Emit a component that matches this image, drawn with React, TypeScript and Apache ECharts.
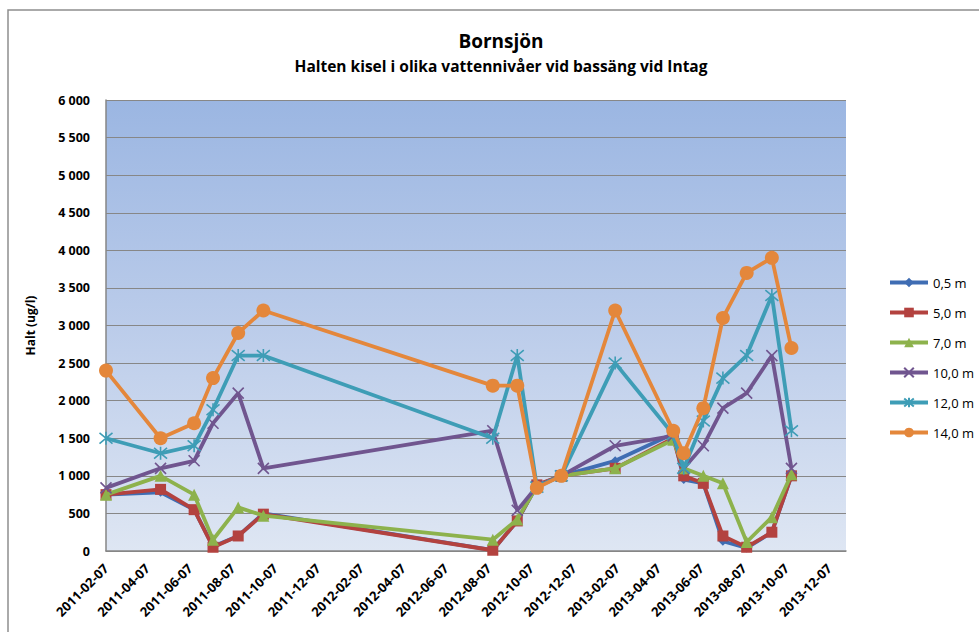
import React, { useEffect, useRef } from "react";
import * as echarts from "echarts";

// Sampling dates (YYYY-MM-DD)
const sampleDates = [
  "2011-02-07", "2011-04-26", "2011-06-13", "2011-07-10", "2011-08-15", "2011-09-20",
  "2012-08-13", "2012-09-17", "2012-10-15", "2012-11-19", "2013-02-04", "2013-04-28",
  "2013-05-13", "2013-06-10", "2013-07-08", "2013-08-11", "2013-09-16", "2013-10-14",
];

// Silica concentration (ug/l) per depth
const depth05 = [750, 780, 550, 60, 200, 500, 10, 400, 870, 1000, 1200, 1560, 950, 900, 130, 40, 250, 1000];
const depth50 = [750, 820, 550, 50, 200, 490, 10, 400, 880, 1000, 1100, 1500, 1000, 900, 200, 50, 250, 1000];
const depth70 = [750, 1000, 750, 150, 580, 470, 150, 420, 860, 1000, 1100, 1480, 1100, 1000, 900, 120, 450, 1020];
const depth100 = [840, 1100, 1200, 1700, 2100, 1100, 1600, 540, 860, 1000, 1400, 1530, 1100, 1400, 1900, 2100, 2600, 1100];
const depth120 = [1500, 1300, 1400, 1880, 2600, 2600, 1500, 2600, 850, 1000, 2500, 1550, 1100, 1730, 2300, 2600, 3400, 1600];
const depth140 = [2400, 1500, 1700, 2300, 2900, 3200, 2200, 2200, 840, 1000, 3200, 1600, 1300, 1900, 3100, 3700, 3900, 2700];

const seriesNames = ["0,5 m", "5,0 m", "7,0 m", "10,0 m", "12,0 m", "14,0 m"];

// X-axis tick labels, every second month
const tickDates = [
  "2011-02-07", "2011-04-07", "2011-06-07", "2011-08-07", "2011-10-07", "2011-12-07",
  "2012-02-07", "2012-04-07", "2012-06-07", "2012-08-07", "2012-10-07", "2012-12-07",
  "2013-02-07", "2013-04-07", "2013-06-07", "2013-08-07", "2013-10-07", "2013-12-07",
];
const xMin = "2011-02-07";
const xMax = "2013-12-31";

const yMin = 0;
const yMax = 6000;
const yInterval = 500;

const toTs = (s: string) => {
  const [y, m, d] = s.split("-").map(Number);
  return Date.UTC(y, m - 1, d);
};
const pad = (n: number) => (n < 10 ? "0" + n : String(n));
const fmtDate = (v: number) => {
  const d = new Date(v);
  return `${d.getUTCFullYear()}-${pad(d.getUTCMonth() + 1)}-${pad(d.getUTCDate())}`;
};
const fmtThousands = (v: number) => String(v).replace(/\B(?=(\d{3})+(?!\d))/g, " ");

const FONT = '"Open Sans", "Noto Sans", sans-serif';

const crossPath = "path://M0,0 L10,10 M10,0 L0,10";
const starPath = "path://M0,0 L10,10 M10,0 L0,10 M5,-1 L5,11";

export default function App() {
  const ref = useRef<HTMLDivElement>(null);

  useEffect(() => {
    if (!ref.current) return;
    const chart = echarts.init(ref.current, undefined, { renderer: "svg" });

    const values = [depth05, depth50, depth70, depth100, depth120, depth140];
    const colors = ["#3F6DB3", "#B3423F", "#8DB24C", "#70558F", "#3E9DB6", "#E4873B"];
    const symbols = ["diamond", "rect", "triangle", crossPath, starPath, "circle"];
    const sizes = [9, 11, 12, 11, 13, 14];
    const stroked = [false, false, false, true, true, false];

    const series = values.map((vals, i) => ({
      name: seriesNames[i],
      type: "line",
      data: vals.map((v, k) => [toTs(sampleDates[k]), v]),
      symbol: symbols[i],
      symbolSize: sizes[i],
      showAllSymbol: true,
      lineStyle: { color: colors[i], width: 3.8 },
      itemStyle: stroked[i]
        ? { color: colors[i], borderColor: colors[i], borderWidth: 1.6 }
        : { color: colors[i], borderWidth: 0 },
      emphasis: { disabled: true },
      z: 2 + i,
    }));

    chart.setOption({
      animation: false,
      backgroundColor: "#ffffff",
      textStyle: { fontFamily: FONT },
      graphic: [
        {
          type: "rect",
          silent: true,
          z: -10,
          shape: { x: 8, y: 10, width: 1200, height: 800 },
          style: { fill: "none", stroke: "#8e8e8e", lineWidth: 1.5 },
        },
        {
          type: "text",
          x: 501,
          y: 41,
          style: {
            text: "Bornsjön",
            fontFamily: FONT,
            fontWeight: "bold",
            fontSize: 19,
            fill: "#000",
            align: "center",
            verticalAlign: "middle",
          },
        },
        {
          type: "text",
          x: 501,
          y: 66,
          style: {
            text: "Halten kisel i olika vattennivåer vid bassäng vid Intag",
            fontFamily: FONT,
            fontWeight: "bold",
            fontSize: 15.5,
            fill: "#000",
            align: "center",
            verticalAlign: "middle",
          },
        },
      ],
      grid: {
        left: 106,
        top: 100,
        right: 133,
        bottom: 81,
        show: true,
        borderWidth: 0,
        backgroundColor: new echarts.graphic.LinearGradient(0, 0, 0, 1, [
          { offset: 0, color: "#9BB6E2" },
          { offset: 0.5, color: "#BBCCEA" },
          { offset: 1, color: "#DEE6F3" },
        ]),
      },
      legend: {
        orient: "vertical",
        left: 888,
        top: 276,
        padding: 0,
        itemWidth: 38,
        itemHeight: 12,
        itemGap: 17,
        lineStyle: { width: 4 },
        textStyle: { fontFamily: FONT, fontSize: 13, color: "#000" },
        data: seriesNames,
      },
      xAxis: {
        type: "value",
        min: toTs(xMin),
        max: toTs(xMax),
        splitLine: { show: false },
        axisTick: { show: false },
        axisLine: { show: true, onZero: false, lineStyle: { color: "#868686", width: 1.5 } },
        axisLabel: {
          customValues: tickDates.map(toTs),
          rotate: 45,
          margin: 15,
          formatter: (v: number) => fmtDate(v),
          fontFamily: FONT,
          fontWeight: "bold",
          fontSize: 13,
          color: "#000",
        },
      },
      yAxis: {
        type: "value",
        min: yMin,
        max: yMax,
        interval: yInterval,
        name: "Halt (ug/l)",
        nameLocation: "middle",
        nameGap: 70,
        nameRotate: 90,
        nameTextStyle: { fontFamily: FONT, fontWeight: "bold", fontSize: 12, color: "#000" },
        axisLine: { show: true, lineStyle: { color: "#868686", width: 1.5 } },
        axisTick: { show: false },
        splitLine: { show: true, lineStyle: { color: "#878787", width: 1.2 } },
        axisLabel: {
          margin: 16,
          formatter: (v: number) => fmtThousands(v),
          fontFamily: FONT,
          fontWeight: "bold",
          fontSize: 12.5,
          color: "#000",
        },
      },
      series,
    });

    return () => chart.dispose();
  }, []);

  return (
    <div
      ref={ref}
      style={{ position: "fixed", left: 0, top: 0, width: 979, height: 632, background: "#fff" }}
    />
  );
}
